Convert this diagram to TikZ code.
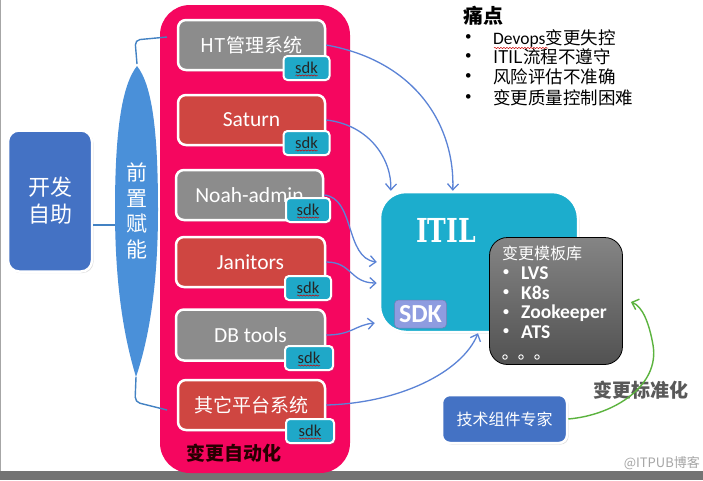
\documentclass[tikz,border=0pt]{standalone}
\usepackage{fontspec}
\setmainfont{Carlito}
\newfontfamily\cjk{Noto Sans CJK SC}
\newfontfamily\slab{DejaVu Serif}
\usetikzlibrary{arrows.meta,shadows,decorations.pathmorphing}
\definecolor{pinkbg}{HTML}{F5065F}
\definecolor{graybox}{HTML}{8C8C8C}
\definecolor{redbox}{HTML}{CF4641}
\definecolor{sdkteal}{HTML}{1FA8C8}
\definecolor{itilteal}{HTML}{1CADCD}
\definecolor{sdklav}{HTML}{8E9CE0}
\definecolor{bluebox}{HTML}{4472C4}
\definecolor{lensblue}{HTML}{4A90D9}
\definecolor{linkblue}{HTML}{5B83D6}
\definecolor{greenarr}{HTML}{5BB33E}
\tikzset{
  shd/.style={drop shadow={opacity=0.25,shadow xshift=1.5pt,shadow yshift=-1.5pt}},
  sysbox/.style={rounded corners=8pt,draw=white,line width=2.5pt,shd,text=white,
     minimum width=147pt,minimum height=50pt,font=\fontsize{21.5}{23}\selectfont},
  cjkbox/.style={font=\cjk\fontsize{19}{21}\selectfont},
  sdkbox/.style={rounded corners=4pt,fill=sdkteal,draw=white,line width=2pt,shd,
     minimum width=46pt,minimum height=24pt,font=\fontsize{16.5}{18}\selectfont,text=black!85,inner sep=0pt},
  link/.style={linkblue,line width=1.3pt,-{Straight Barb[length=6pt,width=11pt]}},
  blueline/.style={draw=lensblue!90!black,line width=1.4pt},
  squig/.style={red!80!black,line width=0.5pt,decorate,decoration={snake,amplitude=0.6pt,segment length=3pt}},
  pain/.style={anchor=west,font=\fontsize{17.5}{19}\selectfont,inner sep=0pt},
  tpl/.style={anchor=west,text=white,font=\bfseries\fontsize{19.5}{21}\selectfont,inner sep=0pt}
}
\begin{document}
\begin{tikzpicture}[x=1pt,y=-1pt]
\useasboundingbox (0,0) rectangle (703,480);
\fill[white] (0,0) rectangle (703,480);
% screen edges
\fill[black!55] (0,471) rectangle (703,480);
\draw[black!35,line width=1pt] (0.5,0) -- (0.5,471);

% pink panel
\node[fill=pinkbg,rounded corners=30pt,minimum width=190pt,minimum height=468pt,inner sep=0pt] (panel) at (255,239) {};
\node[font=\cjk\bfseries\fontsize{19}{21}\selectfont,text=black!85!red] (auto) at (234,453) {变更自动化};

% left box
\node[sysbox,fill=bluebox,rounded corners=11pt,minimum width=84pt,minimum height=141pt,
      align=center,font=\cjk\fontsize{22}{27}\selectfont] (dev) at (50,201) {开发\\自助};

% lens
\coordinate (lenstop) at (137,66);
\coordinate (lensbot) at (136,377);
\coordinate (lensleft) at (115,225);
\fill[lensblue] (lenstop) .. controls (122,85) and (115,130) .. (115,210)
   .. controls (115,300) and (128,350) .. (lensbot)
   .. controls (145,350) and (158,300) .. (158,210)
   .. controls (158,130) and (152,85) .. (lenstop) -- cycle;
\node[text=white,align=center,font=\cjk\fontsize{21}{25.5}\selectfont] (lens) at (137,211) {前\\置\\赋\\能};

% systems
\node[sysbox,fill=graybox,cjkbox] (ht) at (251.5,45) {HT管理系统};
\node[sysbox,fill=redbox] (sat) at (251.5,120) {Saturn};
\node[sysbox,fill=graybox] (noah) at (249.5,195) {Noah-admin};
\node[sysbox,fill=redbox,minimum width=149pt] (jan) at (250.5,262) {Janitors};
\node[sysbox,fill=graybox,minimum width=149pt,minimum height=51pt] (db) at (250.5,335) {DB tools};
\node[sysbox,fill=redbox,cjkbox] (oth) at (251.5,405) {其它平台系统};

\node[sdkbox] (s1) at (306.5,68) {sdk};
\node[sdkbox] (s2) at (306.5,143) {sdk};
\node[sdkbox,minimum width=44pt] (s3) at (308,210) {sdk};
\node[sdkbox] (s4) at (308,288) {sdk};
\node[sdkbox,minimum width=48pt] (s5) at (309,358) {sdk};
\node[sdkbox,minimum width=48pt] (s6) at (310,431) {sdk};
\foreach \s in {s1,s2,s3,s4,s5,s6}{
  \draw[squig] ([xshift=-11pt,yshift=-7.5pt]\s.center) -- ([xshift=11pt,yshift=-7.5pt]\s.center);
}

% brackets
\draw[blueline] (dev.east |- lensleft) -- (lensleft);
\draw[blueline,rounded corners=5pt] ([yshift=2pt]lenstop) -- (135,40) -- (167,37);
\draw[blueline,rounded corners=5pt] (lensbot) -- (135,402) -- (167,410);

% ITIL
\node[fill=itilteal,draw=white,line width=2.5pt,rounded corners=26pt,shd,
      minimum width=198pt,minimum height=140pt] (itil) at (479,262) {};
\node[text=white,font=\slab\bfseries\fontsize{33}{35}\selectfont] (itiltxt) at (446,230) {\scalebox{0.76}[1]{ITIL}};
\node[fill=sdklav,draw=sdklav!80!black,line width=0.5pt,rounded corners=4pt,minimum width=52pt,minimum height=28pt,
      text=white,font=\bfseries\fontsize{26}{28}\selectfont,inner sep=0pt] (sdkbig) at (420.5,314) {SDK};

% template library
\node[top color=black!48,bottom color=black!68,draw=black,line width=0.8pt,rounded corners=18pt,
      minimum width=133pt,minimum height=127pt] (tmpl) at (556,301) {};
\node[anchor=west,text=white,font=\cjk\fontsize{16}{18}\selectfont,inner sep=0pt] (tt) at (502,253) {变更模板库};
\foreach \y/\t [count=\i] in {273/LVS,293/K8s,313/Zookeeper,332/ATS}{
  \node[tpl] (b\i) at (503,\y) {\fontsize{12}{14}\selectfont•};
  \node[tpl] (t\i) at (521,\y) {\t};
}
\foreach \x [count=\i] in {505,521,537}{
  \node[draw=white,line width=0.9pt,circle,inner sep=0pt,minimum size=4.5pt] (d\i) at (\x,357) {};
}

% expert
\node[sysbox,fill=bluebox,minimum width=125pt,minimum height=48pt,font=\cjk\fontsize{16}{18}\selectfont] (exp) at (504.5,419) {技术组件专家};
\node[text=black!65,font=\cjk\bfseries\fontsize{19}{21}\selectfont] (std) at (641,390) {变更标准化};

% links
\draw[link] (ht.east) .. controls (420,62) and (455,130) .. ([xshift=74pt]itil.north west);
\draw[link] (sat.east) .. controls (370,125) and (392,160) .. ([xshift=12pt]itil.north west);
\draw[link] (noah.east) .. controls (355,198) and (345,258) .. ([xshift=-2pt]itil.west);
\draw[link] (jan.east) .. controls (352,262) and (350,283) .. ([xshift=-2pt,yshift=-21pt]itil.west);
\draw[link] (db.east) .. controls (352,335) and (355,325) .. ([xshift=-4pt,yshift=-61pt]itil.west);
\draw[link] (oth.east) .. controls (400,403) and (462,372) .. ([xshift=-1pt]itil.south);
\draw[greenarr,line width=1.4pt,-{Straight Barb[length=6pt,width=11pt]}]
   (exp.east) .. controls (615,415) and (660,385) .. (653,345)
   .. controls (649,322) and (642,306) .. ([xshift=8pt,yshift=-1pt]tmpl.east);

% pain points
\node[anchor=west,font=\cjk\bfseries\fontsize{20}{22}\selectfont,inner sep=0pt] (pt) at (463,16) {痛点};
\foreach \y/\t [count=\i] in {38/{Devops{\cjk 变更失控}},57/{{\cjk ITIL流程不遵守}},77/{{\cjk 风险评估不准确}},98/{{\cjk 变更质量控制困难}}}{
  \node[pain,font=\fontsize{13}{15}\selectfont] (pb\i) at (465,\y) {•};
  \node[pain] (pp\i) at (493,\y) {\t};
}
\draw[squig] (494,48) -- (548,48);

% watermark
\node[anchor=east,text=black!35,font=\cjk\fontsize{13}{15}\selectfont,inner sep=0pt] (wm) at (700,463) {@ITPUB博客};
\end{tikzpicture}
\end{document}
